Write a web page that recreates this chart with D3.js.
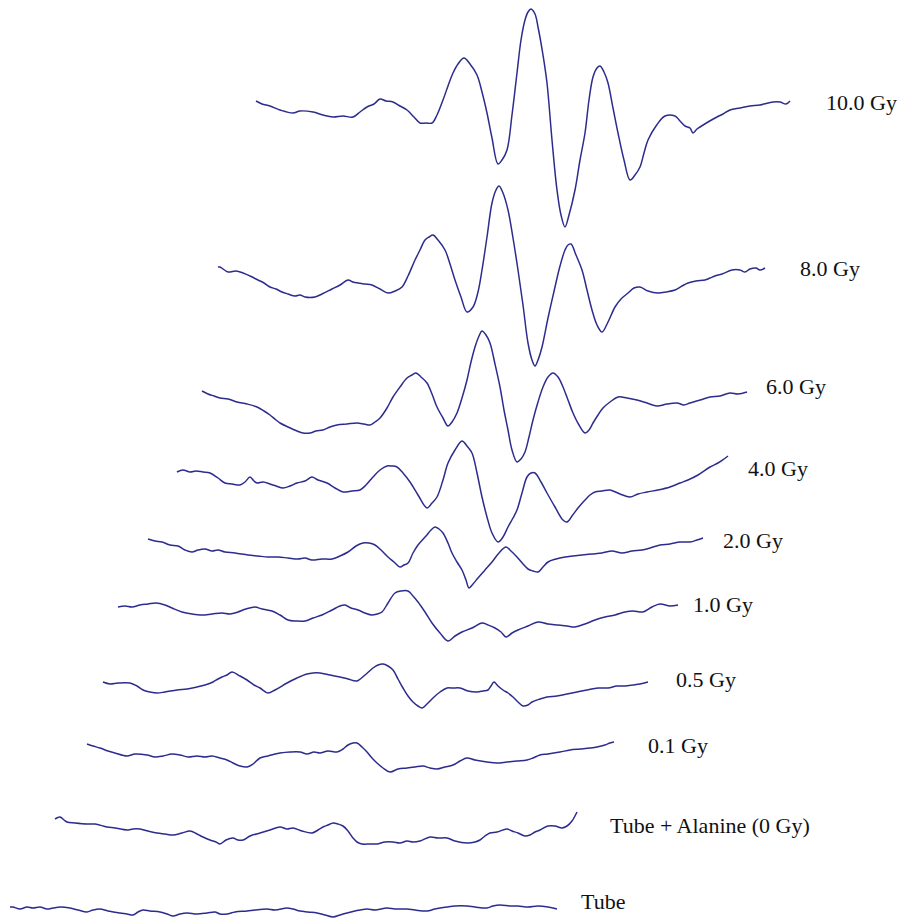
<!DOCTYPE html>
<html>
<head>
<meta charset="utf-8">
<script src="https://cdn.jsdelivr.net/npm/d3@7"></script>
<style>
  body { margin: 0; background: #fff; }
  svg { display: block; }
</style>
</head>
<body>
<svg></svg>
<script>
const width = 898;
const height = 919;

// EPR spectra, [field offset (G), amplitude (a.u.)], top to bottom
const gy10 = [[0,0],[1.2,-3],[2.8,-5],[4.8,-9],[7.4,-12],[8.8,-10],[11.4,-11],[13.4,-14],[15.4,-16],[17.4,-15],[19.4,-16],[20.8,-11],[22.2,-6],[23.6,-3],[24.8,2],[26,0],[27.4,-1],[28.8,-5],[30.2,-9],[31.6,-16],[32.8,-22],[34,-22],[35.2,-22],[36.2,-14],[37.4,1],[38.4,15],[39.4,28],[40.4,37],[41.6,43],[42.8,37],[44.2,26],[45.2,9],[46.2,-12],[47.2,-37],[48.4,-63],[49.2,-59],[50.2,-49],[51.2,-14],[52.2,28],[53,61],[53.8,81],[54.4,89],[55,92],[55.8,87],[56.4,74],[57.4,46],[58.2,18],[59.2,-39],[60.2,-89],[61,-114],[61.8,-126],[62.6,-114],[63.8,-89],[64.8,-59],[65.8,-32],[66.6,1],[67.4,24],[68.2,33],[68.8,35],[69.6,29],[70.4,18],[71.4,-7],[72.4,-32],[73.6,-59],[74.8,-79],[75.8,-74],[76.8,-66],[77.6,-52],[78.4,-39],[80,-25],[81.8,-15],[83.8,-15],[84.8,-20],[85.8,-25],[86.8,-27],[87.4,-32],[88.2,-28],[88.8,-26],[90.4,-21],[92.2,-16],[93.4,-13],[94.8,-9],[96.8,-7],[98.8,-5],[100.8,-4],[103.4,-1],[104.8,-1],[106,-3],[106.8,0]];

const gy8 = [[0,0],[0.4,0],[2,-5],[3.6,-4],[5,-6],[6.4,-9],[8,-13],[9.2,-16],[10.4,-20],[11.6,-22],[12.8,-25],[14,-27],[15.4,-29],[16.4,-28],[17.4,-30],[19.4,-30],[20.8,-27],[22.8,-22],[24.4,-18],[26,-13],[27,-15],[28,-16],[29.4,-17],[30.8,-18],[32.4,-22],[34,-26],[35.4,-24],[36.8,-20],[38,-9],[39.4,7],[40.4,17],[41.4,27],[42.2,30],[43,32],[44,27],[45.4,17],[46.4,3],[47.4,-13],[48.6,-30],[49.8,-45],[51,-40],[52,-25],[52.8,-3],[53.8,30],[54.8,64],[55.6,77],[56.2,81],[57,74],[58,57],[59,29],[60,-3],[61,-38],[62,-76],[62.8,-93],[63.4,-99],[64,-93],[64.8,-80],[66,-51],[67.4,-20],[68.4,1],[69.4,17],[70,22],[70.6,23],[71.6,12],[72.8,-3],[73.8,-23],[74.8,-43],[75.8,-58],[76.8,-65],[78,-55],[79.4,-40],[80.6,-32],[82,-26],[83.2,-21],[84.4,-20],[86,-24],[88,-26],[89.6,-25],[91.4,-23],[92.8,-19],[94,-16],[95.6,-14],[97.4,-13],[98.4,-11],[99.4,-9],[100.8,-7],[102.8,-3],[104.4,-3],[105.4,-5],[106.4,-2],[107.6,-1],[108.4,-3],[109.4,-1]];

const gy6 = [[0,0],[1.2,-3],[2.4,-5],[3.6,-7],[5.2,-8],[7,-11],[9,-13],[11,-16],[12.4,-20],[13.6,-24],[14.8,-29],[15.6,-32],[17.2,-36],[19,-40],[20.2,-42],[21.6,-42],[22.8,-40],[24.2,-39],[25.6,-36],[27,-34],[29,-33],[31,-32],[32.4,-33],[33.6,-34],[34.6,-31],[35.6,-27],[37,-17],[38.2,-6],[39.6,4],[41,13],[42,16],[42.8,18],[43.8,14],[45,8],[46,-3],[47,-16],[48.2,-27],[49.2,-35],[50,-31],[51,-22],[52,-7],[53,11],[53.8,29],[54.6,44],[55.4,55],[56,60],[56.8,56],[57.6,48],[58.6,27],[59.6,4],[60.4,-19],[61.2,-39],[62,-59],[63,-71],[63.8,-68],[64.6,-61],[65.4,-46],[66.2,-29],[67.2,-11],[68.2,4],[69.2,14],[70.2,18],[71.2,14],[72.2,4],[73.2,-9],[74.2,-22],[75.4,-34],[76.6,-42],[77.4,-39],[78.2,-32],[79.2,-24],[80.2,-17],[81.6,-11],[83.2,-6],[85,-7],[87,-9],[89,-12],[91,-15],[93,-13],[95,-12],[96.4,-14],[97.6,-12],[99.6,-9],[101.6,-6],[103.6,-5],[105.6,-2],[107.2,-3],[109,-1]];

const gy4 = [[0,0],[1.2,2],[2.6,0],[3.8,1],[5.2,0],[6.6,-1],[8.2,-6],[9.6,-11],[11,-12],[12.6,-13],[13.6,-10],[14.6,-5],[15.4,-9],[16,-11],[17.2,-10],[18.6,-12],[19.8,-14],[21.2,-16],[22.6,-14],[24,-11],[25.6,-9],[27,-5],[28.2,-8],[30,-11],[31.6,-16],[33.2,-20],[35,-19],[36.6,-18],[37.8,-13],[39.2,-5],[40.6,2],[42,6],[43,6],[44,5],[45.2,-1],[46.6,-10],[48.2,-23],[50,-36],[51,-31],[52,-25],[53.2,-8],[54.2,9],[55.6,22],[57,31],[58,26],[59,19],[60,-1],[61,-25],[62,-45],[63,-61],[64.2,-70],[65.2,-65],[66.2,-55],[67.2,-46],[68,-38],[69,-21],[70,-5],[70.8,-1],[71.6,-1],[72.8,-10],[74,-21],[75.6,-35],[77.2,-48],[78,-50],[79,-44],[80.2,-36],[81.6,-28],[82.6,-23],[83.6,-20],[85,-19],[86.6,-18],[88.6,-22],[90.6,-25],[92.2,-22],[94,-20],[96.2,-18],[98.6,-15],[100.6,-11],[102.2,-8],[104.2,-3],[106.6,5],[108.2,9],[109.4,13],[110.2,16]];

const gy2 = [[0,0],[1.4,-2],[2.8,-3],[4.4,-6],[6,-7],[7.4,-11],[8.8,-13],[10,-11],[11.4,-10],[12.8,-12],[14,-11],[15.4,-13],[17.4,-14],[20,-16],[22,-17],[24,-18],[26,-18],[28,-19],[30,-20],[31.4,-19],[32.8,-21],[34.8,-20],[36.8,-20],[38.4,-17],[40,-13],[41.6,-7],[43,-4],[44.2,-4],[45.4,-6],[46.8,-12],[48,-18],[49.2,-23],[50.4,-28],[51.2,-26],[52,-24],[53,-14],[54,-6],[55.6,3],[56.6,9],[57.4,12],[58.2,10],[59,6],[60,-4],[60.8,-14],[61.8,-23],[62.8,-31],[63.6,-41],[64.2,-49],[65,-45],[66,-39],[67.4,-31],[68.8,-23],[70.2,-14],[71.6,-8],[72.6,-12],[73.8,-18],[75,-25],[76,-30],[77,-32],[78,-33],[79,-28],[80,-23],[81.6,-20],[83.4,-18],[85,-17],[86.8,-16],[88.8,-15],[90.8,-14],[92.8,-12],[94.8,-14],[96.8,-12],[98.8,-11],[100.4,-9],[102.4,-6],[104.4,-5],[106.4,-3],[108.4,-3],[109.8,-1],[111,1]];

const gy1 = [[0,0],[1.4,1],[2.8,0],[4.4,2],[6,3],[7.6,4],[9.4,2],[10.8,-1],[12.8,-5],[14.8,-7],[16.8,-8],[18.8,-7],[20.8,-6],[22.4,-7],[24,-5],[25.6,-2],[27.4,0],[28.8,-2],[30.8,-4],[32.4,-8],[34,-13],[35.6,-14],[37.4,-14],[39,-11],[40.8,-8],[42.8,-3],[44.4,1],[45.4,2],[46.6,-1],[48,-3],[49.4,-6],[50.8,-8],[51.8,-7],[52.8,-5],[54,4],[55.4,14],[56.6,16],[58,16],[59,11],[60,5],[61.4,-5],[62.8,-16],[64.4,-26],[66,-34],[67.4,-29],[68.8,-25],[70.8,-21],[72.8,-16],[74,-18],[75.4,-21],[76.6,-25],[77.6,-30],[78.8,-26],[80,-23],[82,-19],[84,-15],[86,-17],[88,-18],[89.8,-19],[91.4,-20],[93.4,-17],[95.4,-13],[97.4,-10],[99.4,-8],[101.4,-5],[103,-4],[105,-5],[106.8,0],[108.4,3],[110.4,1],[112,2]];

const gy05 = [[0,0],[1.4,-2],[3,-1],[5.4,-1],[6.8,-4],[8,-8],[9.4,-10],[10.8,-11],[12.4,-10],[14.8,-8],[16.8,-7],[18.8,-5],[20.4,-3],[22,0],[23,3],[23.8,5],[24.8,7],[25.8,10],[27.4,6],[28.8,2],[30.2,-3],[31.4,-6],[33,-11],[34.4,-8],[36.8,-1],[38.8,4],[40.8,8],[42,9],[43.4,9],[45.4,7],[47.4,5],[49,3],[50.8,1],[52.4,7],[54,14],[55,17],[56,18],[57,16],[58,12],[59,3],[60,-6],[61,-14],[62,-20],[63,-24],[63.8,-26],[64.8,-22],[66,-16],[67.4,-10],[68.8,-6],[70,-6],[71.4,-6],[73,-9],[74.8,-10],[76,-9],[77,-8],[77.6,-4],[78.2,0],[79,-4],[80,-8],[81,-11],[82,-15],[83,-20],[84,-24],[85,-23],[85.8,-20],[87.4,-17],[88.8,-15],[90.8,-14],[92.8,-12],[94.8,-10],[96.8,-8],[99,-6],[101,-6],[102.8,-4],[104.4,-4],[106,-3],[107.4,-2],[109,0]];

const gy01 = [[0,0],[1.2,-2],[2.6,-4],[4.2,-7],[5.6,-9],[8,-12],[9.6,-10],[12,-11],[13.6,-13],[15.2,-12],[17,-10],[18.6,-11],[20.2,-13],[22,-12],[23.6,-13],[25,-12],[26.6,-14],[28,-16],[29.2,-19],[30.6,-22],[32,-23],[33.2,-20],[34.6,-14],[36.2,-12],[37.6,-10],[38.6,-9],[40.6,-8],[42.6,-8],[44,-10],[45.4,-8],[46.6,-9],[48.2,-7],[50,-8],[51.2,-5],[52.2,-1],[53.2,1],[54,1],[55,-3],[56,-8],[57,-14],[58,-19],[59.2,-24],[60.6,-28],[62.2,-25],[64,-24],[65.6,-23],[67.2,-22],[68.6,-24],[70,-25],[71.6,-23],[73.2,-21],[74.6,-17],[76,-14],[77.6,-16],[80,-18],[82,-19],[84,-18],[86,-17],[88,-16],[89.2,-14],[90.6,-11],[92.2,-10],[94.6,-8],[96.6,-6],[98.6,-5],[100.6,-4],[102,-3],[103.6,-1],[104.6,1],[105.4,2]];

const tubeAla = [[0,0],[1,2],[1.8,-1],[2.4,-3],[4,-4],[6.4,-5],[8,-5],[10.4,-8],[12,-9],[14.4,-11],[15.6,-10],[17,-10],[18.6,-12],[20.4,-14],[22,-15],[23.6,-16],[25.4,-14],[27,-12],[28.4,-15],[29.6,-18],[31,-21],[32.2,-23],[33,-25],[34.2,-21],[35.6,-19],[36.6,-21],[37.6,-21],[39,-17],[41,-14],[43,-11],[45,-8],[46.4,-10],[47.6,-9],[49.4,-12],[51.4,-14],[52.6,-11],[53.6,-8],[54.6,-6],[55.6,-4],[56.6,-5],[57.6,-7],[58.6,-12],[59.6,-19],[60.4,-23],[61.4,-25],[63,-25],[64.4,-25],[66,-23],[67.6,-23],[69,-24],[70.4,-22],[71.6,-23],[73,-22],[75,-18],[76.6,-19],[78.4,-19],[80,-22],[82.4,-24],[84,-23],[85,-21],[86,-17],[87,-14],[88.4,-13],[90.4,-10],[91.4,-12],[92.6,-14],[94,-17],[95,-16],[96,-13],[97,-11],[98.6,-7],[100,-7],[101.4,-9],[102.4,-7],[103.4,-2],[104.4,7]];

const tube = [[0,0],[0.6,0],[2,-2],[3.4,0],[4.6,-1],[6,0],[7.4,-2],[8.6,-1],[10,0],[12,-1],[13.6,-3],[15.4,-5],[16.6,-3],[18,-2],[19.6,-4],[22,-6],[23.4,-7],[24.6,-8],[25.6,-5],[26.6,-3],[28,-4],[30,-5],[31.4,-7],[32.6,-9],[34,-7],[35.4,-6],[37.4,-7],[39.4,-6],[41,-5],[42,-7],[43.4,-7],[45,-5],[47.4,-4],[49,-3],[51.4,-2],[53,-3],[55.4,-1],[56.6,-2],[58,-4],[59.6,-5],[61.4,-6],[63,-8],[64.6,-10],[66,-8],[67.4,-6],[69,-4],[71.4,-2],[73,-3],[75.4,-1],[77,-2],[79.4,-2],[81,-3],[83.4,-4],[85,-2],[87.4,0],[89,1],[91.4,1],[93,0],[95.4,-1],[96.6,1],[98,2],[100,1],[101.6,1],[103.6,0],[105.6,1],[107.6,0],[109.4,-2]];

const spectra = [gy10, gy8, gy6, gy4, gy2, gy1, gy05, gy01, tubeAla, tube];
const labels = ["10.0 Gy", "8.0 Gy", "6.0 Gy", "4.0 Gy", "2.0 Gy", "1.0 Gy", "0.5 Gy", "0.1 Gy", "Tube + Alanine (0 Gy)", "Tube"];

// waterfall layout (px): trace origin and label anchor
const traceX = [256, 218, 202, 177, 148, 118, 103, 87, 55, 10];
const traceY = [101, 267, 391, 472, 539, 607, 682, 744, 819, 907];
const labelX = [826, 800, 766, 748, 723, 693, 676, 648, 610, 581];
const labelY = [102, 268, 386, 468, 540, 604, 679, 745, 825, 901];

const color = '#2c2c8e';

const xScale = d3.scaleLinear()
                    .domain([0, 110])
                    .range([0, 550])

const yScale = d3.scaleLinear()
                    .domain([-130, 100])
                    .range([130, -100])

const line = d3.line()
                .x(d => xScale(d[0]))
                .y(d => yScale(d[1]))
                .curve(d3.curveCatmullRom.alpha(0.5))

const svg = d3.select('svg')
                .attr('width', width)
                .attr('height', height)

const traces = svg.selectAll('.trace')
                .data(spectra)
                .enter()
                .append('g')
                    .classed('trace', true)
                    .attr('transform', (d, i) => 'translate(' + traceX[i] + ',' + traceY[i] + ')')

traces.append('path')
        .attr('d', line)
        .attr('fill', 'none')
        .attr('stroke', color)
        .attr('stroke-width', 1.5)
        .attr('stroke-linejoin', 'round')

svg.selectAll('.label')
    .data(labels)
    .enter()
    .append('text')
        .classed('label', true)
        .text(d => d)
        .attr('x', (d, i) => labelX[i])
        .attr('y', (d, i) => labelY[i])
        .attr('dy', '0.35em')
        .attr('font-family', '"Liberation Serif", "Times New Roman", serif')
        .attr('font-size', '22px')
        .attr('fill', '#111')
</script>
</body>
</html>
